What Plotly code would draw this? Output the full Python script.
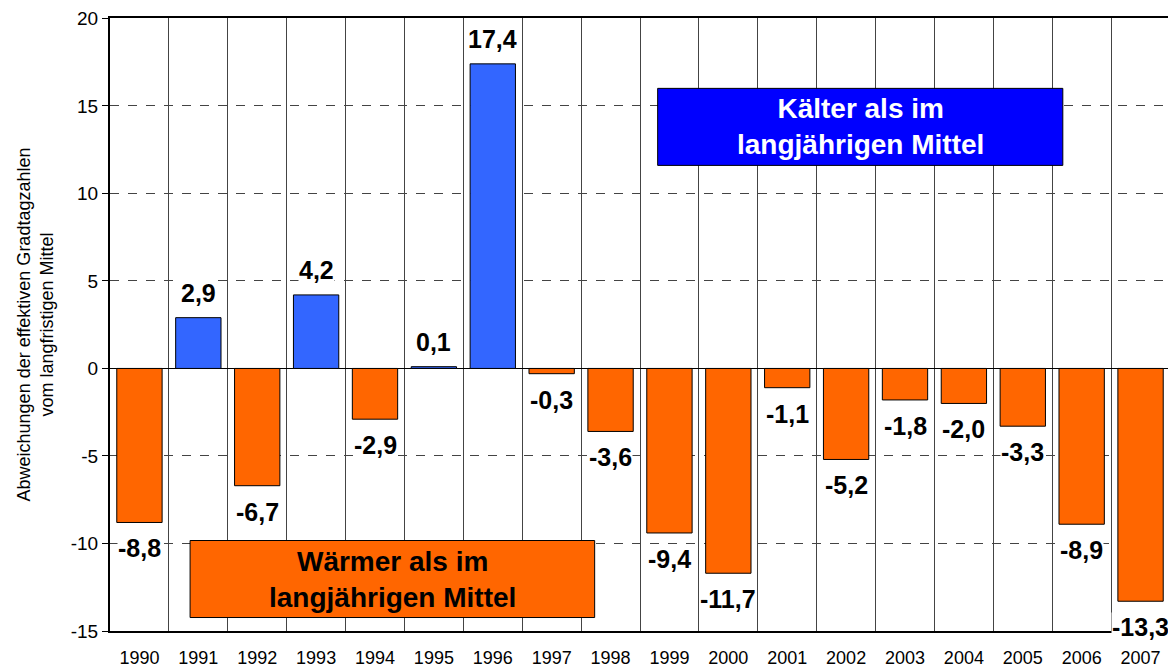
import plotly.graph_objects as go

years = ["1990","1991","1992","1993","1994","1995","1996","1997","1998","1999",
         "2000","2001","2002","2003","2004","2005","2006","2007"]
values = [-8.8, 2.9, -6.7, 4.2, -2.9, 0.1, 17.4, -0.3, -3.6, -9.4,
          -11.7, -1.1, -5.2, -1.8, -2.0, -3.3, -8.9, -13.3]
y_ticks = [-15, -10, -5, 0, 5, 10, 15, 20]

BLUE = "#3366FF"
ORANGE = "#FF6600"
FONT = "Liberation Sans, Arial, sans-serif"

xs = list(range(len(years)))
colors = [BLUE if v > 0 else ORANGE for v in values]

fig = go.Figure()
fig.add_trace(go.Bar(
    x=xs, y=values, width=0.77,
    marker=dict(color=colors, line=dict(color="black", width=1)),
    hoverinfo="skip",
))
# invisible trace on secondary x axis for category boundary grid lines
fig.add_trace(go.Scatter(x=[-0.5, len(years) - 0.5], y=[0, 0], xaxis="x2",
                         mode="markers", marker=dict(opacity=0), hoverinfo="skip",
                         showlegend=False))

for i, v in enumerate(values):
    fig.add_annotation(
        x=i, y=v, text="<b>" + f"{v:.1f}".replace(".", ",") + "</b>",
        showarrow=False, yshift=25 if v > 0 else -26, yanchor="middle",
        font=dict(family=FONT, size=25, color="black"),
        bgcolor="white", borderpad=0,
    )

# legend-like boxes
fig.add_shape(type="rect", xref="x", yref="y", x0=8.80, x1=15.68, y0=11.6, y1=16.0,
              fillcolor="#0000FF", line=dict(color="black", width=1), layer="above")
fig.add_annotation(x=(8.80 + 15.68) / 2, y=13.8, xref="x", yref="y",
                   text="<b>Kälter als im<br>langjährigen Mittel</b>", showarrow=False,
                   font=dict(family=FONT, size=28, color="white"))
fig.add_shape(type="rect", xref="x", yref="y", x0=0.86, x1=7.73, y0=-14.23, y1=-9.83,
              fillcolor=ORANGE, line=dict(color="black", width=1), layer="above")
fig.add_annotation(x=(0.86 + 7.73) / 2, y=-12.03, xref="x", yref="y",
                   text="<b>Wärmer als im<br>langjährigen Mittel</b>", showarrow=False,
                   font=dict(family=FONT, size=28, color="black"))

fig.update_layout(
    width=1168, height=664,
    margin=dict(l=102, r=6, t=10, b=41, autoexpand=False),
    paper_bgcolor="white", plot_bgcolor="white",
    showlegend=False,
    font=dict(family=FONT, color="black"),
    xaxis=dict(
        range=[-0.5, len(years) - 0.5], tickmode="array", tickvals=xs, ticktext=years,
        showgrid=False, showline=True, linecolor="black", linewidth=2, mirror=True,
        ticks="", tickfont=dict(size=18), zeroline=False, ticklabelstandoff=9,
        automargin=False,
    ),
    xaxis2=dict(
        overlaying="x", matches="x", range=[-0.5, len(years) - 0.5],
        tickmode="linear", tick0=-0.5, dtick=1, showticklabels=False,
        showgrid=True, gridcolor="#444444", gridwidth=1, ticks="", showline=False,
        side="bottom", zeroline=False, automargin=False,
    ),
    yaxis=dict(
        range=[-15, 20.02], tickmode="array", tickvals=y_ticks,
        ticktext=[str(t) for t in y_ticks],
        showgrid=True, gridcolor="#444444", griddash="dash", gridwidth=1,
        zeroline=True, zerolinecolor="black", zerolinewidth=1,
        showline=True, linecolor="black", linewidth=2,
        ticks="outside", ticklen=6, tickcolor="black", tickfont=dict(size=19),
        automargin=False,
        title=dict(text="Abweichungen der effektiven Gradtagzahlen<br>vom langfristigen Mittel",
                   font=dict(size=18), standoff=12),
    ),
)

fig.write_html("out.html")
